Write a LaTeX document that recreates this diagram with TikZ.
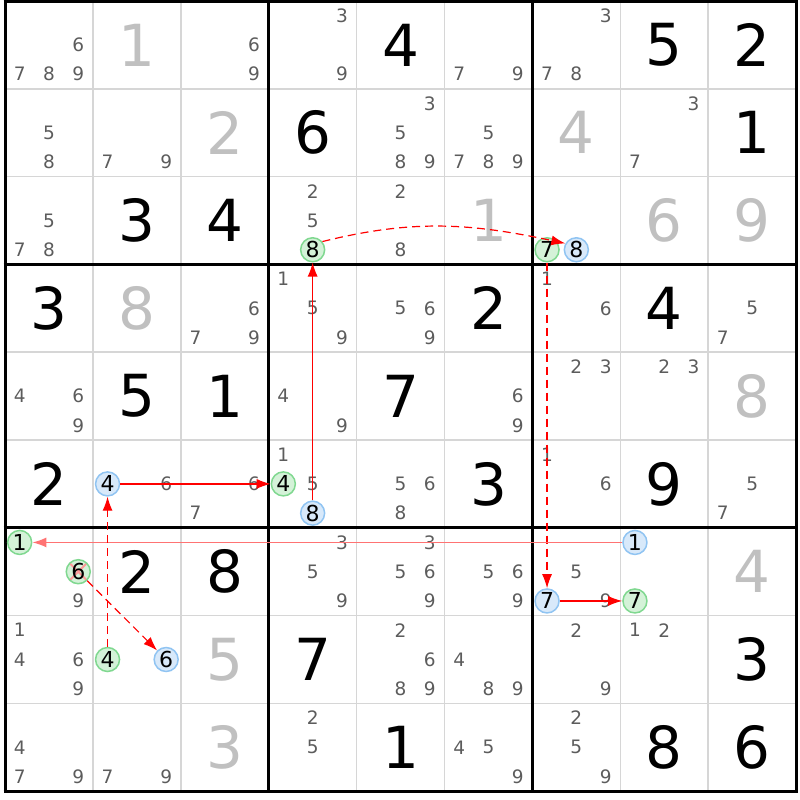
\documentclass[tikz,border=0pt]{standalone}
\usepackage{fontspec}
\setmainfont{DejaVu Sans}
\usetikzlibrary{arrows.meta}
\definecolor{candgray}{HTML}{5C5C5C}
\definecolor{solvedgray}{HTML}{C0C0C0}
\definecolor{gridgray}{HTML}{D6D6D6}
\definecolor{ongreen}{HTML}{80D890}
\definecolor{onfill}{HTML}{D4F2D8}
\definecolor{offblue}{HTML}{90C4F2}
\definecolor{offfill}{HTML}{D8E9FA}
\tikzset{cand/.style={text=candgray,font=\fontsize{18.5}{18.5}\selectfont,inner sep=0pt},
  given/.style={text=black,font=\fontsize{58}{58}\selectfont,inner sep=0pt},
  solved/.style={given,text=solvedgray},
  on node/.style={circle,draw=ongreen,fill=onfill,line width=1.5pt,minimum size=24pt,inner sep=0pt,font=\fontsize{22}{22}\selectfont},
  off node/.style={on node,draw=offblue,fill=offfill},
  crossed/.style={path picture={\draw[red!40,line width=2pt] (path picture bounding box.north west) -- (path picture bounding box.south east) (path picture bounding box.south west) -- (path picture bounding box.north east);}},
  strong link/.style={->,red,line width=1.2pt},
  weak link/.style={->,red,line width=1.2pt,dash pattern=on 8pt off 5pt} }

% candidates of one cell: row, column, digits
\newcommand{\cands}[3]{%
  \foreach \d in {#3} {
    \pgfmathsetmacro{\cx}{#2+(2*mod(\d-1,3)+1)/6}
    \pgfmathsetmacro{\cy}{#1+(2*int((\d-1)/3)+1)/6}
    \node[cand] at (\cx,\cy) {\d};
  }}

\begin{document}
\begin{tikzpicture}[x=87.9pt,y=-87.8pt,>={Latex[length=14pt,width=10pt]}]
  \useasboundingbox (-0.0569,-0.0114) rectangle (9.0444,9.1002);

  % grid
  \foreach \i in {1,2,4,5,7,8} {
    \draw[gridgray,line width=1.6pt] (\i,0) -- (\i,9);
    \draw[gridgray,line width=1.6pt] (0,\i) -- (9,\i);
  }
  \foreach \i in {0,3,6,9} {
    \draw[line width=3pt] (\i,-0.017) -- (\i,9.017);
    \draw[line width=3pt] (-0.017,\i) -- (9.017,\i);
  }

  % givens and solved cells
  \foreach \r/\c/\v in {0/4/4,0/7/5,0/8/2,1/3/6,1/8/1,2/1/3,2/2/4,3/0/3,3/5/2,3/7/4,
      4/1/5,4/2/1,4/4/7,5/0/2,5/5/3,5/7/9,6/1/2,6/2/8,7/3/7,7/8/3,8/4/1,8/7/8,8/8/6}
    \node[given] at (\c+0.5,\r+0.5) {\v};
  \foreach \r/\c/\v in {0/1/1,1/2/2,1/6/4,2/5/1,2/7/6,2/8/9,3/1/8,4/8/8,6/8/4,7/2/5,8/2/3}
    \node[solved] at (\c+0.5,\r+0.5) {\v};

  % candidates
  \cands{0}{0}{6,7,8,9} \cands{0}{2}{6,9} \cands{0}{3}{3,9} \cands{0}{5}{7,9} \cands{0}{6}{3,7,8}
  \cands{1}{0}{5,8} \cands{1}{1}{7,9} \cands{1}{4}{3,5,8,9} \cands{1}{5}{5,7,8,9} \cands{1}{7}{3,7}
  \cands{2}{0}{5,7,8} \cands{2}{3}{2,5} \cands{2}{4}{2,8}
  \cands{3}{2}{6,7,9} \cands{3}{3}{1,5,9} \cands{3}{4}{5,6,9} \cands{3}{6}{1,6} \cands{3}{8}{5,7}
  \cands{4}{0}{4,6,9} \cands{4}{3}{4,9} \cands{4}{5}{6,9} \cands{4}{6}{2,3} \cands{4}{7}{2,3}
  \cands{5}{1}{6} \cands{5}{2}{6,7} \cands{5}{3}{1,5} \cands{5}{4}{5,6,8} \cands{5}{6}{1,6} \cands{5}{8}{5,7}
  \cands{6}{0}{9} \cands{6}{3}{3,5,9} \cands{6}{4}{3,5,6,9} \cands{6}{5}{5,6,9} \cands{6}{6}{5,9}
  \cands{7}{0}{1,4,6,9} \cands{7}{4}{2,6,8,9} \cands{7}{5}{4,8,9} \cands{7}{6}{2,9} \cands{7}{7}{1,2}
  \cands{8}{0}{4,7,9} \cands{8}{1}{7,9} \cands{8}{3}{2,5} \cands{8}{5}{4,5,9} \cands{8}{6}{2,5,9}

  % chain
  \node[on node] (r2c3n8) at (3.5,2.8333) {8};
  \node[on node] (r2c6n7) at (6.1667,2.8333) {7};
  \node[off node] (r2c6n8) at (6.5,2.8333) {8};
  \node[off node] (r5c1n4) at (1.1667,5.5) {4};
  \node[on node] (r5c3n4) at (3.1667,5.5) {4};
  \node[off node] (r5c3n8) at (3.5,5.8333) {8};
  \node[on node] (r6c0n1) at (0.1667,6.1667) {1};
  \node[on node,crossed] (r6c0n6) at (0.8333,6.5) {6};
  \node[off node] (r6c6n7) at (6.1667,6.8333) {7};
  \node[off node] (r6c7n1) at (7.1667,6.1667) {1};
  \node[on node] (r6c7n7) at (7.1667,6.8333) {7};
  \node[on node] (r7c1n4) at (1.1667,7.5) {4};
  \node[off node] (r7c1n6) at (1.8333,7.5) {6};

  \path
    (r5c3n8) edge [strong link] (r2c3n8)
    (r2c3n8.40) edge [weak link, out=14, in=168] (r2c6n8.150)
    (r2c6n7) edge [weak link] (r6c6n7)
    (r6c6n7) edge [strong link] (r6c7n7)
    (r6c7n1) edge [strong link, red!55, line width=1.5pt] (r6c0n1)
    (r6c0n6) edge [weak link] (r7c1n6)
    (r7c1n4) edge [weak link] (r5c1n4)
    (r5c1n4) edge [strong link] (r5c3n4);
\end{tikzpicture}
\end{document}
